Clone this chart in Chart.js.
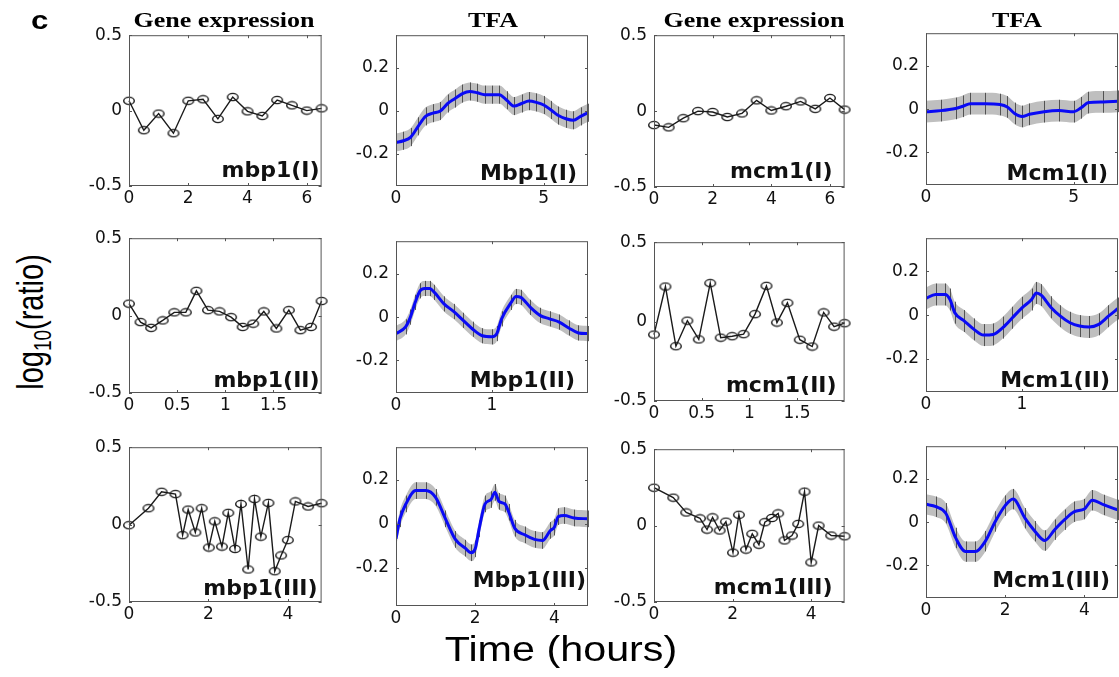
<!DOCTYPE html>
<html>
<head>
<meta charset="utf-8">
<script src="https://cdn.jsdelivr.net/npm/chart.js@4.4.1/dist/chart.umd.min.js"></script>
<style>
html, body { margin: 0; padding: 0; background: #fff; overflow: hidden; }
body { width: 1119px; height: 677px; position: relative; }
canvas { position: absolute; }
.txt { position: absolute; white-space: nowrap; line-height: 1; color: #000; }
.ttl { font: bold 20.5px "Liberation Serif"; transform: translateX(-50%) scaleX(1.27); }
</style>
</head>
<body>
<script>
// ---- time points (hours) for the gene expression series ----
var geneTimeI = [0, 0.5, 1, 1.5, 2, 2.5, 3, 3.5, 4, 4.5, 5, 5.5, 6, 6.5];
var geneTimeII = [0, 0.12, 0.23, 0.35, 0.47, 0.59, 0.7, 0.82, 0.94, 1.06, 1.18, 1.29, 1.4, 1.53, 1.66, 1.78, 1.89, 2.0];
var geneTimeIII = [0, 0.49, 0.82, 1.17, 1.35, 1.49, 1.67, 1.83, 2.01, 2.16, 2.34, 2.5, 2.67, 2.82, 3.0, 3.16, 3.32, 3.51, 3.67, 3.83, 4.0, 4.19, 4.51, 4.85];

// gene expression, log10(ratio)
var mbp1I = [0.065, -0.13, -0.02, -0.15, 0.065, 0.075, -0.055, 0.09, -0.005, -0.035, 0.07, 0.035, 0.0, 0.015];
var mcm1I = [-0.092, -0.107, -0.047, 0.0, -0.006, -0.039, -0.015, 0.071, 0.004, 0.032, 0.064, 0.015, 0.086, 0.01];
var mbp1II = [0.077, -0.042, -0.079, -0.031, 0.021, 0.021, 0.16, 0.035, 0.027, -0.01, -0.073, -0.052, 0.027, -0.083, 0.035, -0.094, -0.073, 0.094];
var mcm1II = [-0.082, 0.221, -0.155, 0.006, -0.112, 0.242, -0.101, -0.092, -0.079, 0.047, 0.225, -0.006, 0.118, -0.114, -0.157, 0.058, -0.032, -0.01];
var mbp1III = [-0.004, 0.106, 0.212, 0.197, -0.068, 0.097, -0.051, 0.106, -0.148, 0.021, -0.142, 0.076, -0.157, 0.133, -0.29, 0.165, -0.078, 0.14, -0.301, -0.199, -0.1, 0.15, 0.117, 0.138];
var mcm1III = [0.248, 0.183, 0.086, 0.047, -0.026, 0.054, -0.032, 0.026, -0.177, 0.071, -0.157, -0.054, -0.125, 0.022, 0.05, 0.08, -0.097, -0.065, 0.011, 0.222, -0.241, 0.0, -0.065, -0.07];

// ---- TFA estimates (blue curves) ----
var tfaTimeMbp1I = [0, 0.25, 0.5, 0.75, 1, 1.25, 1.5, 1.75, 2, 2.25, 2.5, 2.75, 3, 3.25, 3.5, 3.75, 4, 4.25, 4.5, 4.75, 5, 5.25, 5.5, 5.75, 6, 6.25, 6.5];
var tfaMbp1I = [-0.148, -0.14, -0.123, -0.073, -0.027, -0.012, -0.002, 0.033, 0.056, 0.079, 0.089, 0.083, 0.074, 0.074, 0.074, 0.048, 0.021, 0.033, 0.044, 0.038, 0.026, 0.003, -0.023, -0.038, -0.045, -0.027, -0.01];
var tfaTimeMcm1I = [0, 0.5, 1, 1.25, 1.5, 2, 2.5, 2.75, 3, 3.25, 3.5, 4, 4.5, 5, 5.25, 5.5, 6, 6.5];
var tfaMcm1I = [-0.012, -0.007, 0.003, 0.013, 0.025, 0.025, 0.021, 0.01, -0.02, -0.034, -0.024, -0.012, -0.007, -0.012, 0.006, 0.03, 0.033, 0.036];
var tfaTimeMbp1II = [0, 0.1, 0.15, 0.2, 0.25, 0.3, 0.35, 0.4, 0.5, 0.6, 0.7, 0.8, 0.9, 1, 1.05, 1.1, 1.2, 1.25, 1.3, 1.4, 1.5, 1.6, 1.7, 1.8, 1.9, 2];
var tfaMbp1II = [-0.076, -0.045, 0, 0.068, 0.121, 0.132, 0.132, 0.114, 0.061, 0.026, -0.015, -0.056, -0.086, -0.091, -0.076, -0.008, 0.068, 0.095, 0.091, 0.045, 0.008, -0.008, -0.023, -0.05, -0.073, -0.076];
var tfaTimeMcm1II = [0, 0.1, 0.2, 0.25, 0.3, 0.4, 0.5, 0.6, 0.7, 0.8, 0.9, 1, 1.1, 1.15, 1.2, 1.3, 1.4, 1.5, 1.6, 1.7, 1.8, 1.9, 2];
var tfaMcm1II = [0.076, 0.094, 0.094, 0.071, 0.011, -0.027, -0.065, -0.091, -0.088, -0.057, -0.012, 0.033, 0.071, 0.101, 0.091, 0.036, -0.005, -0.035, -0.05, -0.054, -0.042, -0.005, 0.03];
var tfaTimeMbp1III = [0, 0.1, 0.25, 0.5, 0.75, 1, 1.25, 1.5, 1.75, 1.9, 2, 2.1, 2.25, 2.4, 2.5, 2.6, 2.75, 2.85, 3, 3.25, 3.5, 3.7, 3.9, 4, 4.1, 4.25, 4.5, 4.85];
var tfaMbp1III = [-0.068, 0.023, 0.091, 0.152, 0.152, 0.121, 0.023, -0.071, -0.111, -0.132, -0.114, -0.023, 0.091, 0.111, 0.144, 0.103, 0.091, 0.053, -0.02, -0.05, -0.071, -0.076, -0.03, -0.015, 0.033, 0.038, 0.027, 0.023];
var tfaTimeMcm1III = [0, 0.25, 0.5, 0.75, 1, 1.25, 1.5, 1.75, 2, 2.2, 2.5, 2.75, 3, 3.25, 3.5, 3.75, 4, 4.2, 4.5, 4.85];
var tfaMcm1III = [0.082, 0.071, 0.041, -0.073, -0.136, -0.136, -0.088, 0.003, 0.076, 0.106, 0.018, -0.042, -0.085, -0.035, 0.011, 0.048, 0.06, 0.101, 0.079, 0.056];
// half width of the grey error band: Mbp1(I), Mcm1(I), Mbp1(II), Mcm1(II), Mbp1(III), Mcm1(III)
var tfaErr = [0.042, 0.05, 0.035, 0.05, 0.038, 0.047];

// ---- tick labels ----
var geneYTicks = [-0.5, 0, 0.5];
var tfaYTicks = [-0.2, 0, 0.2];
var geneXTicksI = [0, 2, 4, 6];
var tfaXTicksI = [0, 5];
var geneXTicksII = [0, 0.5, 1, 1.5];
var tfaXTicksII = [0, 1];
var xTicksIII = [0, 2, 4];

var colTitles = ['Gene expression', 'TFA', 'Gene expression', 'TFA'];

// layout of the 12 boxes (page pixels)
var YW = 52, TOP = 14, XH = 28, RP = 6;
var panels = [
  {box: [129, 32, 322, 186], t: geneTimeI, v: mbp1I, label: 'mbp1(I)', xMax: 6.5, xTicks: geneXTicksI, lab: [2, 9]},
  {box: [396, 32, 588, 186], t: tfaTimeMbp1I, v: tfaMbp1I, err: tfaErr[0], label: 'Mbp1(I)', xMax: 6.5, xTicks: tfaXTicksI, lab: [11, 6]},
  {box: [654, 32, 845, 187], t: geneTimeI, v: mcm1I, label: 'mcm1(I)', xMax: 6.5, xTicks: geneXTicksI, lab: [12, 9]},
  {box: [926, 30, 1118, 185], t: tfaTimeMcm1I, v: tfaMcm1I, err: tfaErr[1], label: 'Mcm1(I)', xMax: 6.5, xTicks: tfaXTicksI, lab: [10, 5]},

  {box: [129, 235, 322, 393], t: geneTimeII, v: mbp1II, label: 'mbp1(II)', xMax: 2, xTicks: geneXTicksII, lab: [2, 6]},
  {box: [396, 238, 588, 393], t: tfaTimeMbp1II, v: tfaMbp1II, err: tfaErr[2], label: 'Mbp1(II)', xMax: 2, xTicks: tfaXTicksII, lab: [13, 6]},
  {box: [654, 239, 845, 401], t: geneTimeII, v: mcm1II, label: 'mcm1(II)', xMax: 2, xTicks: geneXTicksII, lab: [8, 9]},
  {box: [926, 235, 1118, 392], t: tfaTimeMcm1II, v: tfaMcm1II, err: tfaErr[3], label: 'Mcm1(II)', xMax: 2, xTicks: tfaXTicksII, lab: [8, 5]},

  {box: [129, 444, 322, 602], t: geneTimeIII, v: mbp1III, label: 'mbp1(III)', xMax: 4.85, xTicks: xTicksIII, lab: [4, 7]},
  {box: [396, 444, 588, 606], t: tfaTimeMbp1III, v: tfaMbp1III, err: tfaErr[4], label: 'Mbp1(III)', xMax: 4.85, xTicks: xTicksIII, lab: [2, 19], yMin: -0.375},
  {box: [654, 446, 845, 602], t: geneTimeIII, v: mcm1III, label: 'mcm1(III)', xMax: 4.85, xTicks: xTicksIII, lab: [12, 8]},
  {box: [926, 443, 1118, 598], t: tfaTimeMcm1III, v: tfaMcm1III, err: tfaErr[5], label: 'Mcm1(III)', xMax: 4.85, xTicks: xTicksIII, lab: [8, 11]}
];

Chart.defaults.font.family = '"DejaVu Sans"';
Chart.defaults.color = '#111';

// hollow, slightly flattened ring used as point marker
function ringMarker() {
  var c = document.createElement('canvas');
  c.width = 14; c.height = 10;
  var g = c.getContext('2d');
  g.strokeStyle = '#1a1a1a';
  g.lineWidth = 1.4;
  g.beginPath();
  g.ellipse(7, 5, 5.3, 3.6, 0, 0, Math.PI * 2);
  g.stroke();
  return c;
}
var ring = ringMarker();

// box, inward ticks, error bars and the in-panel name
var panelDeco = {
  id: 'panelDeco',
  afterDatasetDraw: function (chart, args, opts) {
    if (!opts.err || args.index !== 0) return;
    var ctx = chart.ctx, x = chart.scales.x, y = chart.scales.y;
    var d = chart.data.datasets[2].data;
    ctx.save();
    ctx.strokeStyle = 'rgba(55,55,55,0.8)';
    ctx.lineWidth = 1;
    ctx.beginPath();
    d.forEach(function (p) {
      var px = Math.round(x.getPixelForValue(p.x)) + 0.5;
      ctx.moveTo(px, y.getPixelForValue(p.y + opts.err));
      ctx.lineTo(px, y.getPixelForValue(p.y - opts.err));
    });
    ctx.stroke();
    ctx.restore();
  },
  afterDraw: function (chart, args, opts) {
    var ctx = chart.ctx, a = chart.chartArea, x = chart.scales.x, y = chart.scales.y;
    ctx.save();
    ctx.strokeStyle = '#555';
    ctx.lineWidth = 1;
    ctx.strokeRect(a.left + 0.5, a.top + 0.5, a.width - 1, a.height - 1);
    ctx.beginPath();
    x.ticks.forEach(function (t) {
      var px = Math.round(x.getPixelForValue(t.value)) + 0.5;
      ctx.moveTo(px, a.bottom); ctx.lineTo(px, a.bottom - 3);
      ctx.moveTo(px, a.top); ctx.lineTo(px, a.top + 3);
    });
    y.ticks.forEach(function (t) {
      var py = Math.round(y.getPixelForValue(t.value)) + 0.5;
      ctx.moveTo(a.left, py); ctx.lineTo(a.left + 3, py);
      ctx.moveTo(a.right, py); ctx.lineTo(a.right - 3, py);
    });
    ctx.stroke();
    ctx.fillStyle = '#111';
    ctx.font = 'bold 22px "DejaVu Sans"';
    ctx.textAlign = 'right';
    ctx.textBaseline = 'alphabetic';
    ctx.fillText(opts.label, a.right - opts.dx, a.bottom - opts.dy);
    ctx.restore();
  }
};

function pts(t, v, off) {
  return t.map(function (tt, i) { return {x: tt, y: v[i] + (off || 0)}; });
}

function makePanel(p) {
  var w = p.box[2] - p.box[0], h = p.box[3] - p.box[1];
  var cv = document.createElement('canvas');
  cv.width = YW + w + RP;
  cv.height = TOP + h + XH;
  cv.style.left = (p.box[0] - YW) + 'px';
  cv.style.top = (p.box[1] - TOP) + 'px';
  document.body.appendChild(cv);

  var isTfa = p.err !== undefined;
  var datasets;
  if (isTfa) {
    datasets = [
      {data: pts(p.t, p.v, p.err), borderWidth: 0, pointRadius: 0, fill: '+1',
       backgroundColor: '#bfbfbf', cubicInterpolationMode: 'monotone', order: 1},
      {data: pts(p.t, p.v, -p.err), borderWidth: 0, pointRadius: 0, fill: false,
       cubicInterpolationMode: 'monotone', order: 1},
      {data: pts(p.t, p.v), borderColor: '#0a0af5', borderWidth: 3, pointRadius: 0,
       fill: false, cubicInterpolationMode: 'monotone', order: 0}
    ];
  } else {
    datasets = [
      {data: pts(p.t, p.v), borderColor: '#1a1a1a', borderWidth: 1.4, pointStyle: ring,
       pointRadius: 5, fill: false, tension: 0, clip: false}
    ];
  }

  new Chart(cv, {
    type: 'line',
    data: {datasets: datasets},
    plugins: [panelDeco],
    options: {
      responsive: false,
      animation: false,
      events: [],
      layout: {padding: {top: TOP, right: RP, left: 0, bottom: 0}},
      plugins: {
        legend: {display: false},
        tooltip: {enabled: false},
        panelDeco: {label: p.label, dx: p.lab[0], dy: p.lab[1], err: isTfa ? p.err : 0}
      },
      scales: {
        x: {
          type: 'linear', min: 0, max: p.xMax,
          grid: {display: false, drawTicks: false}, border: {display: false},
          ticks: {font: {size: 17}, padding: 2, maxRotation: 0, autoSkip: false,
                  callback: function (v) { return String(v); }},
          afterBuildTicks: function (s) { s.ticks = p.xTicks.map(function (v) { return {value: v}; }); },
          afterFit: function (s) { s.height = XH; }
        },
        y: {
          type: 'linear',
          min: isTfa ? (p.yMin || -0.35) : -0.5,
          max: isTfa ? 0.35 : 0.5,
          grid: {display: false, drawTicks: false}, border: {display: false},
          ticks: {font: {size: 17}, padding: 7, autoSkip: false,
                  callback: function (v) { return String(v); }},
          afterBuildTicks: function (s) {
            s.ticks = (isTfa ? tfaYTicks : geneYTicks).map(function (v) { return {value: v}; });
          },
          afterFit: function (s) { s.width = YW; }
        }
      }
    }
  });
}

panels.forEach(makePanel);

// text outside the boxes
function addText(html, cls, style) {
  var d = document.createElement('div');
  d.className = 'txt ' + cls;
  d.innerHTML = html;
  d.setAttribute('style', style);
  document.body.appendChild(d);
  return d;
}
var titleCenters = [224, 493, 754, 1017];
colTitles.forEach(function (s, i) {
  addText(s, 'ttl', 'left:' + titleCenters[i] + 'px;top:' + (26.5 - 0.84 * 20.5) + 'px;');
});
addText('c', '', 'left:31px;top:6px;font:bold 25px "Liberation Sans";transform:scaleX(1.25);transform-origin:left top;');
addText('log<sub style="font-size:19px;vertical-align:-6px;line-height:0">10</sub>(ratio)', '',
  'left:31px;top:322px;font:29px "Liberation Sans";transform:translate(-50%,-50%) rotate(-90deg) scaleY(1.3);');
addText('Time (hours)', '',
  'left:561px;top:' + (659 - 0.85 * 35) + 'px;font:35px "Liberation Sans";transform:translateX(-50%) scaleX(1.18);');
</script>
</body>
</html>
